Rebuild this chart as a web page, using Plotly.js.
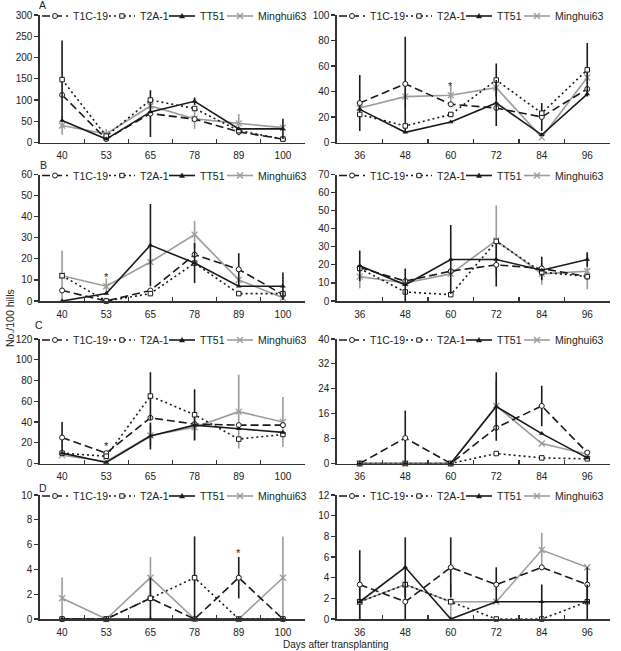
<!DOCTYPE html>
<html><head><meta charset="utf-8">
<script src="https://cdn.plot.ly/plotly-3.0.1.min.js"></script>
<style>html,body{margin:0;padding:0;background:#fff}</style>
</head><body><div id="chart" style="width:621px;height:651px"></div>
<script>
const seriesNames = ["T1C-19", "T2A-1", "TT51", "Minghui63"];
const daysEarly = ["40", "53", "65", "78", "89", "100"];
const daysLate = ["36", "48", "60", "72", "84", "96"];

// Panel A (left: days 40-100, right: days 36-96)
const A1_T1C19 = [112, 8, 68, 55, 25, 8];
const A1_T2A1 = [148, 15, 100, 80, 28, 8];
const A1_TT51 = [52, 8, 72, 97, 32, 32];
const A1_Minghui63 = [40, 20, 86, 56, 45, 35];
const A1_T1C19_err = [0, 3, 55, 0, 8, 0];
const A1_T2A1_err = [92, 5, 0, 0, 0, 0];
const A1_TT51_err = [0, 3, 0, 9, 0, 24];
const A1_Minghui63_err = [22, 12, 15, 24, 22, 0];

const A2_T1C19 = [31, 46, 30, 27, 20, 42];
const A2_T2A1 = [22, 13, 22, 49, 23, 57];
const A2_TT51 = [26, 8, 16, 31, 6, 38];
const A2_Minghui63 = [27, 36, 37, 43, 4, 51];
const A2_T1C19_err = [22, 37, 0, 0, 11, 0];
const A2_T2A1_err = [0, 0, 0, 13, 0, 21];
const A2_TT51_err = [0, 0, 0, 18, 0, 0];
const A2_Minghui63_err = [0, 9, 8, 0, 0, 5];

// Panel B
const B1_T1C19 = [5, 0, 5, 22, 15, 3];
const B1_T2A1 = [12, 0, 3.5, 18, 3.5, 3.5];
const B1_TT51 = [0, 3.5, 26.5, 18, 7, 7];
const B1_Minghui63 = [12, 7, 18.5, 31.5, 10, 1.5];
const B1_T1C19_err = [0, 0, 0, 0, 7.6, 0];
const B1_T2A1_err = [0, 0, 0, 0, 0, 0];
const B1_TT51_err = [0, 0, 19.5, 9.5, 0, 6.5];
const B1_Minghui63_err = [12, 3.7, 0, 6.5, 0, 0];

const B2_T1C19 = [18.5, 11, 16.5, 20, 18, 13.5];
const B2_T2A1 = [18, 5, 3.5, 33, 16, 13.5];
const B2_TT51 = [19.5, 9, 23, 23, 17, 23];
const B2_Minghui63 = [13.5, 10, 15, 33.5, 15, 16.5];
const B2_T1C19_err = [0, 0, 0, 12, 6.5, 0];
const B2_T2A1_err = [0, 0, 0, 0, 0, 0];
const B2_TT51_err = [8.5, 9, 19, 0, 0, 4];
const B2_Minghui63_err = [6.5, 0, 0, 19.3, 6, 10];

// Panel C
const C1_T1C19 = [25, 10, 44, 38, 37, 37];
const C1_T2A1 = [10, 7, 65, 47, 23.5, 28];
const C1_TT51 = [10, 1, 26.5, 37, 33.5, 30];
const C1_Minghui63 = [8, 2, 27, 35, 50, 40];
const C1_T1C19_err = [15, 0, 0, 0, 0, 0];
const C1_T2A1_err = [0, 0, 23, 24.6, 0, 0];
const C1_TT51_err = [0, 0, 13, 0, 0, 0];
const C1_Minghui63_err = [0, 0, 10, 13, 35.5, 24];

const C2_T1C19 = [0, 8.2, 0, 11.5, 18.5, 3.5];
const C2_T2A1 = [0, 0, 0, 3.2, 1.8, 1.5];
const C2_TT51 = [0, 0, 0, 18.3, 9.6, 1.8];
const C2_Minghui63 = [0, 0, 0, 18.5, 6.4, 3];
const C2_T1C19_err = [0, 8.8, 0, 0, 6.5, 0];
const C2_T2A1_err = [0, 0, 0, 0, 0, 0];
const C2_TT51_err = [0, 0, 0, 11, 0, 0];
const C2_Minghui63_err = [0, 0, 0, 8, 0, 1];

// Panel D
const D1_T1C19 = [0, 0, 1.67, 0, 3.33, 0];
const D1_T2A1 = [0, 0, 1.67, 3.33, 0, 0];
const D1_TT51 = [0, 0, 0, 0, 0, 0];
const D1_Minghui63 = [1.67, 0, 3.33, 0, 0, 3.33];
const D1_T1C19_err = [0, 0, 1.67, 0, 1.67, 0];
const D1_T2A1_err = [0, 0, 0, 3.33, 0, 0];
const D1_TT51_err = [0, 0, 0, 0, 0, 0];
const D1_Minghui63_err = [1.67, 0, 1.67, 0, 0, 3.33];

const D2_T1C19 = [3.33, 1.67, 5, 3.33, 5, 3.33];
const D2_T2A1 = [1.67, 3.33, 1.67, 0, 0, 1.67];
const D2_TT51 = [1.67, 5, 0, 1.67, 1.67, 1.67];
const D2_Minghui63 = [1.67, 3.33, 1.67, 1.67, 6.67, 5];
const D2_T1C19_err = [3.33, 1.67, 2.9, 1.67, 0, 1.67];
const D2_T2A1_err = [0, 0, 0, 0, 0, 0];
const D2_TT51_err = [0, 2.9, 0, 0, 1.67, 1.67];
const D2_Minghui63_err = [1.67, 0, 1.67, 0, 1.67, 0];

// Y-axis scales
const yMax = [300, 100, 60, 70, 120, 40, 10, 12];
const yStep = [50, 20, 10, 10, 20, 8, 2, 2];
const panelLetters = ["A", "B", "C", "D"];

// Significance marks: [panel index, day, value]
const starMarks = [[1, "60", 47], [2, "53", 13], [4, "53", 20], [6, "89", 5.6]];

const panels = [
  {cats: daysEarly, vals: [A1_T1C19, A1_T2A1, A1_TT51, A1_Minghui63], errs: [A1_T1C19_err, A1_T2A1_err, A1_TT51_err, A1_Minghui63_err]},
  {cats: daysLate, vals: [A2_T1C19, A2_T2A1, A2_TT51, A2_Minghui63], errs: [A2_T1C19_err, A2_T2A1_err, A2_TT51_err, A2_Minghui63_err]},
  {cats: daysEarly, vals: [B1_T1C19, B1_T2A1, B1_TT51, B1_Minghui63], errs: [B1_T1C19_err, B1_T2A1_err, B1_TT51_err, B1_Minghui63_err]},
  {cats: daysLate, vals: [B2_T1C19, B2_T2A1, B2_TT51, B2_Minghui63], errs: [B2_T1C19_err, B2_T2A1_err, B2_TT51_err, B2_Minghui63_err]},
  {cats: daysEarly, vals: [C1_T1C19, C1_T2A1, C1_TT51, C1_Minghui63], errs: [C1_T1C19_err, C1_T2A1_err, C1_TT51_err, C1_Minghui63_err]},
  {cats: daysLate, vals: [C2_T1C19, C2_T2A1, C2_TT51, C2_Minghui63], errs: [C2_T1C19_err, C2_T2A1_err, C2_TT51_err, C2_Minghui63_err]},
  {cats: daysEarly, vals: [D1_T1C19, D1_T2A1, D1_TT51, D1_Minghui63], errs: [D1_T1C19_err, D1_T2A1_err, D1_TT51_err, D1_Minghui63_err]},
  {cats: daysLate, vals: [D2_T1C19, D2_T2A1, D2_TT51, D2_Minghui63], errs: [D2_T1C19_err, D2_T2A1_err, D2_TT51_err, D2_Minghui63_err]}
];

const W = 621, H = 651;
const FONT = "Liberation Sans, Arial, sans-serif";
const BLACK = "#1a1a1a", GRAY = "#9c9c9c", AXIS = "#333";
const rowsPx = [[15, 142.5], [174.5, 301], [339, 463.5], [495, 619]];
const colsPx = [[40, 305], [337, 610]];

const styles = [
  {color: BLACK, dash: "8px,4px", marker: {symbol: "circle", size: 5, color: "#fff", line: {color: BLACK, width: 1}}},
  {color: BLACK, dash: "2px,3px", marker: {symbol: "square", size: 4.5, color: "#fff", line: {color: BLACK, width: 1}}},
  {color: BLACK, dash: "solid", marker: {symbol: "triangle-up", size: 5, color: BLACK, line: {color: BLACK, width: 0}}},
  {color: GRAY, dash: "solid", marker: {symbol: "x-thin", size: 6, color: GRAY, line: {color: GRAY, width: 1.3}}}
];

const traces = [];
const layout = {
  width: W, height: H,
  margin: {l: 0, r: 0, t: 0, b: 0},
  paper_bgcolor: "#fff", plot_bgcolor: "rgba(0,0,0,0)",
  showlegend: false,
  font: {family: FONT, color: "#222", size: 10},
  shapes: [], annotations: []
};

const px2x = p => p / W;
const px2y = p => 1 - p / H;

panels.forEach((p, k) => {
  const n = k + 1;
  const row = Math.floor(k / 2), col = k % 2;
  const xs = n === 1 ? "x" : "x" + n;
  const ys = n === 1 ? "y" : "y" + n;
  const order = [3, 0, 1, 2];
  order.forEach(i => {
    const s = styles[i];
    traces.push({
      type: "scatter", mode: "lines+markers",
      x: p.cats, y: p.vals[i], name: seriesNames[i],
      xaxis: xs, yaxis: ys, cliponaxis: false,
      line: {color: s.color, width: 1.6, dash: s.dash},
      marker: s.marker,
      error_y: {type: "data", array: p.errs[i], visible: true, color: s.color, thickness: 1.6, width: 0},
      hoverinfo: "x+y+name"
    });
  });
  const xa = {
    domain: [px2x(colsPx[col][0]), px2x(colsPx[col][1])],
    anchor: ys, type: "category", categoryorder: "array", categoryarray: p.cats,
    range: [-0.5, 5.5], tickson: "boundaries", ticks: "inside", ticklen: 4, tickwidth: 1.2, tickcolor: AXIS,
    showline: true, linecolor: AXIS, linewidth: 1.6, showgrid: false, zeroline: false,
    tickfont: {family: FONT, size: 10, color: "#222"}, ticklabelstandoff: 3, fixedrange: true
  };
  const ya = {
    domain: [px2y(rowsPx[row][1]), px2y(rowsPx[row][0])],
    anchor: xs, range: [0, yMax[k]], tick0: 0, dtick: yStep[k],
    ticks: "outside", ticklen: 4, tickwidth: 1.2, tickcolor: AXIS,
    showline: true, linecolor: AXIS, linewidth: 1.6, showgrid: false, zeroline: false,
    tickfont: {family: FONT, size: 10, color: "#222"}, fixedrange: true
  };
  layout[n === 1 ? "xaxis" : "xaxis" + n] = xa;
  layout[n === 1 ? "yaxis" : "yaxis" + n] = ya;

  // compact legend at the top of each panel
  const X0 = colsPx[col][0], Y0 = rowsPx[row][0] + 1;
  const offs = [2, 69, 129, 187];
  const yP = px2y(Y0);
  seriesNames.forEach((name, i) => {
    const s = styles[i];
    const sx = X0 + offs[i];
    layout.shapes.push({type: "line", xref: "paper", yref: "paper",
      x0: px2x(sx), x1: px2x(sx + 26), y0: yP, y1: yP,
      line: {color: s.color, width: 1.6, dash: s.dash}});
    const cx = px2x(sx + 13);
    const base = {xref: "paper", yref: "paper", xsizemode: "pixel", ysizemode: "pixel", xanchor: cx, yanchor: yP};
    if (i === 0) layout.shapes.push(Object.assign({type: "circle", x0: -2.5, x1: 2.5, y0: -2.5, y1: 2.5,
      fillcolor: "#fff", line: {color: BLACK, width: 1}}, base));
    if (i === 1) layout.shapes.push(Object.assign({type: "rect", x0: -2.2, x1: 2.2, y0: -2.2, y1: 2.2,
      fillcolor: "#fff", line: {color: BLACK, width: 1}}, base));
    if (i === 2) layout.shapes.push(Object.assign({type: "path", path: "M-2.6,-2 L2.6,-2 L0,2.6 Z",
      fillcolor: BLACK, line: {color: BLACK, width: 0.5}}, base));
    if (i === 3) layout.shapes.push(Object.assign({type: "path", path: "M-3,-3 L3,3 M-3,3 L3,-3",
      line: {color: GRAY, width: 1.3}}, base));
    layout.annotations.push({xref: "paper", yref: "paper", x: px2x(sx + 29), y: yP,
      xanchor: "left", yanchor: "middle", showarrow: false, text: name,
      font: {family: FONT, size: 10.5, color: "#222"}});
  });
});

// panel letters
const letterPos = [[42, 5], [43, 165], [39, 325], [43, 488]];
panelLetters.forEach((L, r) => {
  layout.annotations.push({xref: "paper", yref: "paper", x: px2x(letterPos[r][0]), y: px2y(letterPos[r][1]),
    xanchor: "center", yanchor: "middle", showarrow: false, text: L,
    font: {family: FONT, size: 10.5, color: "#222"}});
});

// significance asterisks
starMarks.forEach(([k, day, v]) => {
  const n = k + 1;
  layout.annotations.push({xref: "x" + n, yref: "y" + n, x: panels[k].cats.indexOf(day), y: v,
    showarrow: false, text: "*", yshift: -3, font: {family: FONT, size: 11, color: "#222"}});
});

// shared axis titles
layout.annotations.push({xref: "paper", yref: "paper", x: px2x(10), y: px2y(318), textangle: -90,
  xanchor: "center", yanchor: "middle", showarrow: false, text: "No./100 hills",
  font: {family: FONT, size: 10.5, color: "#222"}});
layout.annotations.push({xref: "paper", yref: "paper", x: px2x(336), y: 0, borderpad: 0,
  xanchor: "center", yanchor: "bottom", showarrow: false, text: "Days after transplanting",
  font: {family: FONT, size: 10, color: "#222"}});

Plotly.newPlot("chart", traces, layout, {displayModeBar: false, staticPlot: true});
</script>
</body></html>
